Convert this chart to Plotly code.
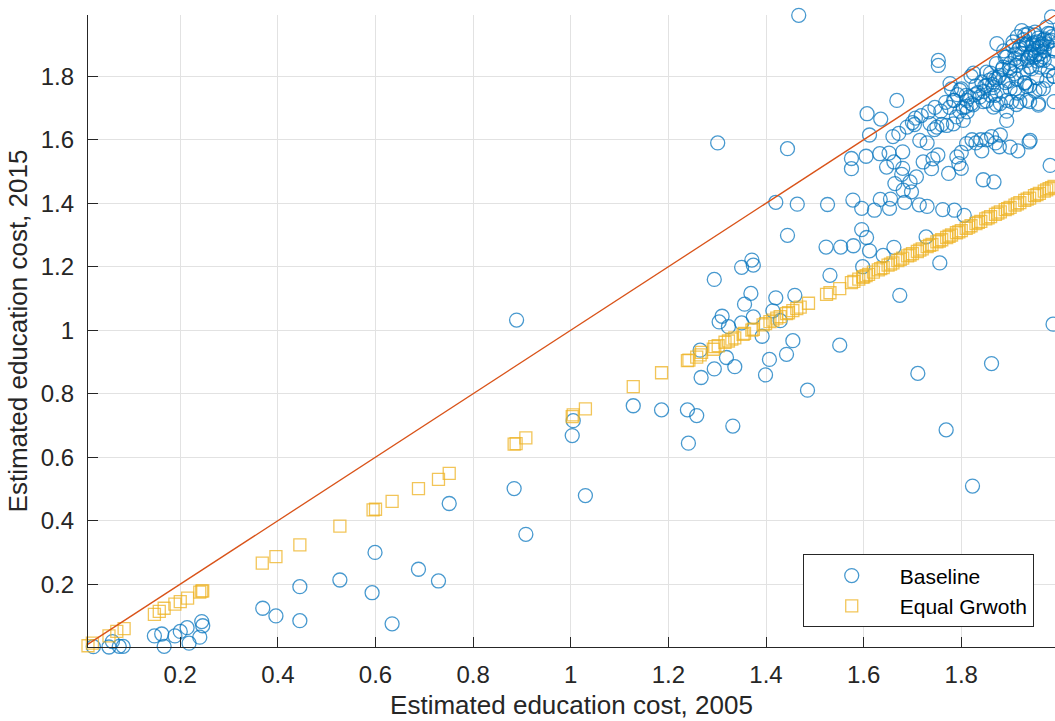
import plotly.graph_objects as go

# ---------------- data ----------------
# Baseline: estimated education cost 2005 (x) vs 2015 (y)
base_x = [
    0.010, 0.022, 0.054, 0.061, 0.075, 0.083, 0.147, 0.162, 0.167, 0.189, 0.200, 0.214,
    0.218, 0.244, 0.246, 0.240, 0.240, 0.369, 0.396, 0.445, 0.445, 0.527, 0.593, 0.599,
    0.634, 0.688, 0.729, 0.751, 0.884, 0.889, 0.908, 1.003, 1.005, 1.030, 1.128, 1.186,
    1.239, 1.241, 1.258,
    1.265, 1.267, 1.294, 1.304, 1.310, 1.294, 1.350, 1.371, 1.374, 1.369, 1.356, 1.420,
    1.459, 1.323, 1.350, 1.374, 1.414, 1.429, 1.392, 1.455, 1.442, 1.407, 1.399, 1.485,
    1.319, 1.336, 1.332, 1.551, 1.531, 1.523,
    1.301, 1.444, 1.420, 1.464, 1.444, 1.467, 1.526, 1.553, 1.579, 1.596, 1.606, 1.612,
    1.598, 1.640, 1.662, 1.728, 1.756, 1.674, 1.711, 1.862, 1.988, 1.769, 1.823,
    1.578, 1.596, 1.622, 1.634, 1.653, 1.655, 1.684, 1.714, 1.730, 1.762, 1.786, 1.806,
    1.575, 1.575, 1.605, 1.633, 1.652, 1.680, 1.647, 1.662, 1.680, 1.678, 1.664, 1.695,
    1.708, 1.681, 1.698, 1.722, 1.739, 1.742, 1.752, 1.774, 1.791, 1.800, 1.795, 1.800,
    1.607, 1.635, 1.612, 1.668, 1.672, 1.660, 1.700, 1.704, 1.715, 1.730, 1.736, 1.745,
    1.750, 1.760, 1.770, 1.784, 1.786, 1.790, 1.797, 1.810, 1.824, 1.845, 1.866, 1.880,
    1.893, 1.903, 1.958, 1.804, 1.893, 1.811, 1.822, 1.830, 1.840, 1.842, 1.852, 1.862,
    1.870, 1.880, 1.878, 1.916, 1.939, 1.845, 1.867, 1.982, 1.900, 1.941,
    1.961, 1.985, 1.924, 1.937, 1.951, 1.975, 1.982, 1.906, 1.920, 1.934, 1.948, 1.955,
    1.965, 1.975, 1.985, 1.989, 1.893, 1.910, 1.924, 1.937, 1.955, 1.968, 1.982, 1.872,
    1.886, 1.900, 1.913, 1.927, 1.944, 1.961, 1.978, 1.989, 1.852, 1.866, 1.879, 1.896,
    1.913, 1.930, 1.955, 1.975, 1.848, 1.866, 1.883, 1.900, 1.915, 1.934, 1.951, 1.968,
    1.825, 1.797, 1.811, 1.838, 1.852, 1.872, 1.893, 1.913, 1.934, 1.958, 1.784, 1.804,
    1.821, 1.777, 1.873, 1.753, 1.753, 1.780, 1.800, 1.810, 1.820, 1.830, 1.852, 1.860,
    1.870, 1.870, 1.890, 1.910, 1.920, 1.940, 1.930, 1.940, 1.960, 1.990, 1.980, 1.930,
    1.950, 1.890, 1.900, 1.910, 1.960, 1.970, 1.940, 1.860, 1.990, 1.945, 1.958, 1.970,
    1.928, 1.915, 1.962, 1.978, 1.942, 1.905, 1.950, 1.990, 1.968, 1.935, 1.922, 1.887,
    1.932, 1.948, 1.957, 1.966, 1.971, 1.944, 1.926, 1.918, 1.939, 1.953, 1.986, 1.962,
    1.899, 1.908, 1.884, 1.876, 1.858, 1.842, 1.834, 1.816, 1.792, 1.768, 1.746, 1.733,
    1.718, 1.706, 1.689, 1.758, 1.776, 1.812, 1.828, 1.846, 1.864,
]
base_y = [
    0.000, 0.003, 0.002, 0.019, 0.004, 0.004, 0.037, 0.043, 0.004, 0.037, 0.051, 0.063,
    0.014, 0.082, 0.069, 0.033, 0.001, 0.124, 0.100, 0.192, 0.085, 0.213, 0.173, 0.300,
    0.075, 0.247, 0.210, 0.454, 0.501, 1.032, 0.357, 0.668, 0.715, 0.479, 0.762, 0.749,
    0.749, 0.644, 0.731,
    0.937, 0.851, 0.878, 1.026, 1.044, 1.160, 1.198, 1.221, 1.205, 1.116, 1.082, 1.102,
    1.110, 1.011, 1.023, 1.042, 1.061, 1.030, 0.981, 0.967, 0.924, 0.908, 0.859, 0.811,
    0.914, 0.885, 0.698, 0.953, 1.173, 1.262,
    1.590, 1.572, 1.403, 1.397, 1.299, 1.992, 1.396, 1.262, 1.266, 1.317, 1.292, 1.250,
    1.200, 1.236, 1.261, 1.294, 1.212, 1.110, 0.864, 0.895, 1.019, 0.686, 0.509,
    1.410, 1.384, 1.378, 1.412, 1.384, 1.413, 1.403, 1.395, 1.390, 1.380, 1.378, 1.362,
    1.541, 1.509, 1.548, 1.556, 1.558, 1.562, 1.514, 1.530, 1.510, 1.491, 1.462, 1.467,
    1.483, 1.441, 1.436, 1.530, 1.509, 1.540, 1.552, 1.494, 1.546, 1.560, 1.525, 1.510,
    1.682, 1.665, 1.615, 1.724, 1.620, 1.610, 1.654, 1.648, 1.598, 1.590, 1.651, 1.632,
    1.640, 1.648, 1.645, 1.650, 1.724, 1.672, 1.690, 1.705, 1.710, 1.720, 1.703, 1.714,
    1.690, 1.720, 1.709, 1.661, 1.661, 1.588, 1.600, 1.590, 1.600, 1.565, 1.600, 1.610,
    1.590, 1.615, 1.578, 1.565, 1.593, 1.474, 1.467, 1.519, 1.577, 1.598,
    1.995, 1.987, 1.944, 1.934, 1.939, 1.955, 1.934, 1.908, 1.892, 1.902, 1.881, 1.908,
    1.892, 1.902, 1.913, 1.887, 1.861, 1.856, 1.871, 1.858, 1.848, 1.861, 1.845, 1.840,
    1.829, 1.817, 1.834, 1.813, 1.824, 1.829, 1.817, 1.800, 1.813, 1.795, 1.803, 1.785,
    1.792, 1.778, 1.795, 1.787, 1.768, 1.764, 1.753, 1.761, 1.747, 1.768, 1.753, 1.761,
    1.810, 1.756, 1.724, 1.735, 1.722, 1.711, 1.724, 1.711, 1.724, 1.714, 1.724, 1.701,
    1.714, 1.777, 1.903, 1.850, 1.834, 1.760, 1.760, 1.740, 1.800, 1.770, 1.771, 1.740,
    1.740, 1.790, 1.780, 1.760, 1.720, 1.720, 1.780, 1.770, 1.760, 1.800, 1.910, 1.930,
    1.930, 1.860, 1.840, 1.870, 1.870, 1.850, 1.830, 1.810, 1.720, 1.900, 1.920, 1.880,
    1.915, 1.925, 1.895, 1.935, 1.870, 1.895, 1.860, 1.880, 1.915, 1.850, 1.845, 1.880,
    1.898, 1.905, 1.890, 1.902, 1.918, 1.875, 1.902, 1.885, 1.862, 1.868, 1.925, 1.852,
    1.826, 1.808, 1.822, 1.796, 1.788, 1.782, 1.748, 1.735, 1.742, 1.718, 1.702, 1.688,
    1.676, 1.668, 1.640, 1.690, 1.702, 1.688, 1.742, 1.752, 1.774,
]

# Equal growth scenario
equal_x = [
    0.011, 0.020, 0.054, 0.070, 0.085, 0.147, 0.157, 0.167, 0.189, 0.200, 0.215, 0.240,
    0.244, 0.246, 0.368, 0.396, 0.445, 0.527, 0.595, 0.600, 0.634, 0.688, 0.729, 0.751,
    0.884, 0.888, 0.908, 1.003, 1.005, 1.030, 1.128, 1.186, 1.239, 1.242, 1.258, 1.265,
    1.268, 1.292, 1.295, 1.302, 1.316, 1.323, 1.330, 1.336, 1.353, 1.356, 1.371, 1.374,
    1.394, 1.399, 1.408, 1.414, 1.422, 1.429, 1.442, 1.446, 1.455, 1.463, 1.470, 1.487,
    1.524, 1.531, 1.551, 1.575, 1.580, 1.590, 1.598, 1.600, 1.610, 1.620, 1.630, 1.640,
    1.650, 1.660, 1.670, 1.680, 1.690, 1.700, 1.710, 1.720, 1.730, 1.740, 1.750, 1.760,
    1.770, 1.780, 1.790, 1.800, 1.810, 1.820, 1.830, 1.840, 1.850, 1.860, 1.870, 1.880,
    1.890, 1.900, 1.910, 1.920, 1.930, 1.940, 1.950, 1.960, 1.970, 1.980, 1.985, 1.990,
    1.605, 1.635, 1.655, 1.675, 1.695, 1.715, 1.735, 1.755, 1.775, 1.795, 1.815, 1.835,
    1.855, 1.875, 1.895, 1.915, 1.935, 1.955, 1.975,
]
equal_y = [
    0.006, 0.014, 0.037, 0.051, 0.060, 0.105, 0.114, 0.124, 0.137, 0.145, 0.156, 0.175,
    0.178, 0.179, 0.266, 0.287, 0.324, 0.383, 0.434, 0.436, 0.461, 0.501, 0.530, 0.549,
    0.641, 0.643, 0.661, 0.728, 0.733, 0.752, 0.822, 0.866, 0.904, 0.906, 0.915, 0.922,
    0.930, 0.940, 0.948, 0.951, 0.962, 0.966, 0.972, 0.976, 0.987, 0.990, 1.000, 1.003,
    1.017, 1.021, 1.027, 1.032, 1.038, 1.043, 1.052, 1.055, 1.062, 1.068, 1.073, 1.085,
    1.113, 1.118, 1.131, 1.150, 1.154, 1.161, 1.167, 1.168, 1.176, 1.183, 1.190, 1.197,
    1.205, 1.212, 1.219, 1.227, 1.234, 1.241, 1.248, 1.256, 1.263, 1.270, 1.278, 1.285,
    1.292, 1.300, 1.307, 1.314, 1.321, 1.329, 1.336, 1.343, 1.351, 1.358, 1.365, 1.373,
    1.380, 1.387, 1.394, 1.402, 1.409, 1.416, 1.424, 1.431, 1.438, 1.446, 1.449, 1.453,
    1.172, 1.194, 1.208, 1.223, 1.237, 1.252, 1.267, 1.281, 1.296, 1.310, 1.325, 1.340,
    1.354, 1.369, 1.383, 1.398, 1.413, 1.427, 1.442,
]

# 45-degree reference line (2015 cost = 2005 cost)
diag_x = [0.0, 2.0]
diag_y = [0.0, 2.0]

# axis ticks
tick_vals = [0.2, 0.4, 0.6, 0.8, 1.0, 1.2, 1.4, 1.6, 1.8]
tick_text = ["0.2", "0.4", "0.6", "0.8", "1", "1.2", "1.4", "1.6", "1.8"]

x_title = "Estimated education cost, 2005"
y_title = "Estimated education cost, 2015"
series_names = ["Baseline", "Equal Grwoth"]

# ---------------- figure ----------------
FONT = "Liberation Sans, Arial, Helvetica, sans-serif"
AX = "#262626"
GRID = "#e2e2e2"

fig = go.Figure()
fig.add_trace(go.Scatter(
    x=base_x, y=base_y, mode="markers", name=series_names[0], cliponaxis=False,
    marker=dict(symbol="circle-open", size=14, color="rgba(0,114,189,0.72)",
                line=dict(width=1.3, color="rgba(0,114,189,0.72)")),
))
fig.add_trace(go.Scatter(
    x=equal_x, y=equal_y, mode="markers", name=series_names[1], cliponaxis=False,
    marker=dict(symbol="square-open", size=12, color="rgba(237,177,32,0.75)",
                line=dict(width=1.3, color="rgba(237,177,32,0.75)")),
))
fig.add_trace(go.Scatter(
    x=diag_x, y=diag_y, mode="lines", showlegend=False, hoverinfo="skip",
    line=dict(color="#D95319", width=1.3),
))

axis_common = dict(
    showline=True, linecolor=AX, linewidth=1.2, mirror=False,
    ticks="inside", ticklen=10, tickwidth=1.2, tickcolor=AX,
    showgrid=True, gridcolor=GRID, gridwidth=1, zeroline=False,
    tickvals=tick_vals, ticktext=tick_text,
    tickfont=dict(family=FONT, size=24, color=AX),
)

fig.update_layout(
    width=1055, height=721,
    margin=dict(l=88, r=0, t=15, b=74),
    paper_bgcolor="white", plot_bgcolor="white",
    font=dict(family=FONT, color=AX),
    xaxis=dict(range=[0.011, 1.992], ticklabelstandoff=6,
               title=dict(text=x_title, font=dict(family=FONT, size=26, color=AX), standoff=8),
               **axis_common),
    yaxis=dict(range=[0.002, 1.993], ticklabelstandoff=8,
               title=dict(text=y_title, font=dict(family=FONT, size=26, color=AX), standoff=5),
               **axis_common),
    legend=dict(
        x=0.978, y=0.031, xanchor="right", yanchor="bottom",
        bgcolor="white", bordercolor=AX, borderwidth=1,
        font=dict(family=FONT, size=21, color="black"),
        itemwidth=86, tracegroupgap=0,
    ),
    showlegend=True,
)

fig.write_html("out.html")
